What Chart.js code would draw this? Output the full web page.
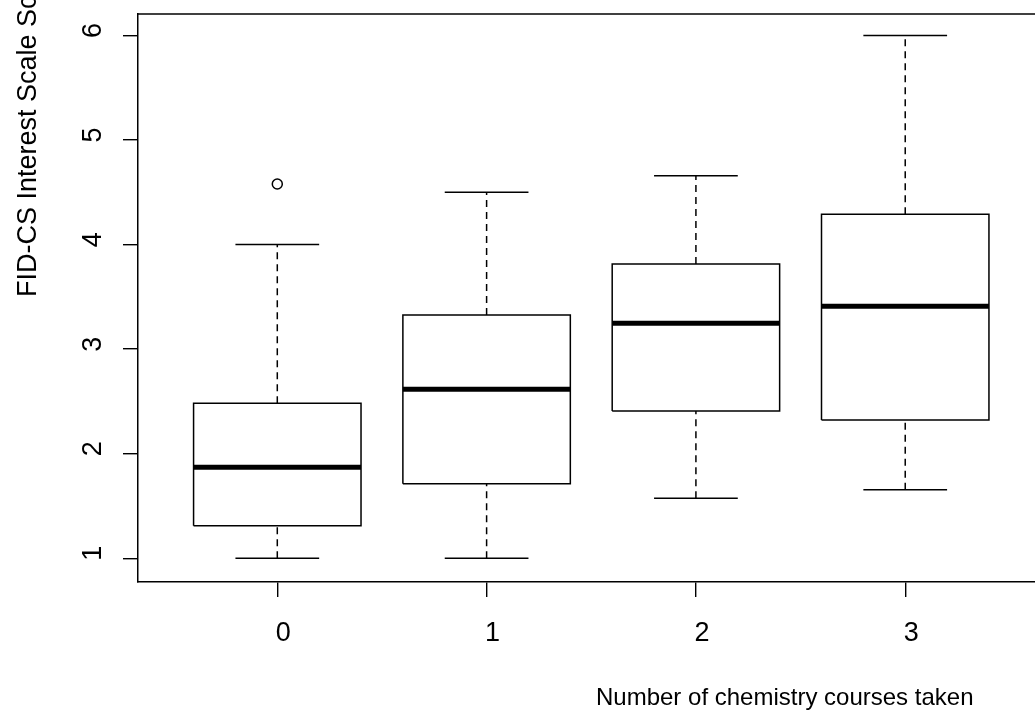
<!DOCTYPE html>
<html>
<head>
<meta charset="utf-8">
<script src="https://cdn.jsdelivr.net/npm/chart.js@4.4.1/dist/chart.umd.min.js"></script>
<style>
  html, body { margin: 0; padding: 0; background: #fff; overflow: hidden; }
  canvas { display: block; }
</style>
</head>
<body>
<canvas id="c" width="1035" height="715"></canvas>
<script>
// ---- data ----
const categories = ['0', '1', '2', '3'];
const xTicks = [0, 1, 2, 3];
const yTicks = [1, 2, 3, 4, 5, 6];
const lowerWhisker = [1.0, 1.0, 1.574, 1.655];
const q1 = [1.312, 1.712, 2.409, 2.323];
const median = [1.870, 2.617, 3.248, 3.410];
const q3 = [2.482, 3.327, 3.815, 4.290];
const upperWhisker = [4.0, 4.5, 4.659, 6.0];
const outliers = [[4.58], [], [], []];
const xTitle = 'Number of chemistry courses taken';
const yTitle = 'FID-CS Interest Scale Score';

// ---- build datasets ----
const BOX_HALF = 0.4, CAP_HALF = 0.2;
const datasets = [];
const lineDs = (data, width, dash) => ({
  type: 'scatter', showLine: true, data, borderColor: '#000', borderWidth: width,
  borderDash: dash || [], pointRadius: 0, pointHoverRadius: 0, fill: false, tension: 0,
  borderCapStyle: 'butt', borderJoinStyle: 'miter'
});
xTicks.forEach((x, i) => {
  datasets.push(lineDs([{x, y: q3[i]}, {x, y: upperWhisker[i]}], 1.5, [7, 5]));
  datasets.push(lineDs([{x, y: lowerWhisker[i]}, {x, y: q1[i]}], 1.5, [7, 5]));
  datasets.push(lineDs([{x: x - CAP_HALF, y: upperWhisker[i]}, {x: x + CAP_HALF, y: upperWhisker[i]}], 1.5));
  datasets.push(lineDs([{x: x - CAP_HALF, y: lowerWhisker[i]}, {x: x + CAP_HALF, y: lowerWhisker[i]}], 1.5));
  datasets.push(lineDs([
    {x: x - BOX_HALF, y: q1[i]}, {x: x + BOX_HALF, y: q1[i]},
    {x: x + BOX_HALF, y: q3[i]}, {x: x - BOX_HALF, y: q3[i]},
    {x: x - BOX_HALF, y: q1[i]}], 1.5));
  datasets.push(lineDs([{x: x - BOX_HALF, y: median[i]}, {x: x + BOX_HALF, y: median[i]}], 5));
  if (outliers[i].length) {
    datasets.push({
      type: 'scatter', data: outliers[i].map(v => ({x, y: v})),
      pointStyle: 'circle', pointRadius: 5, pointBorderWidth: 1.5,
      pointBorderColor: '#000', pointBackgroundColor: 'rgba(0,0,0,0)', showLine: false
    });
  }
});

const FONT = '"Liberation Sans", Arial, Helvetica, sans-serif';

const framePlugin = {
  id: 'frame',
  beforeDraw(chart) {
    const ctx = chart.ctx;
    ctx.save();
    ctx.fillStyle = '#fff';
    ctx.fillRect(0, 0, chart.width, chart.height);
    ctx.restore();
  },
  afterDraw(chart) {
    const ctx = chart.ctx, a = chart.chartArea;
    ctx.save();
    ctx.strokeStyle = '#000';
    ctx.lineWidth = 1.5;
    ctx.beginPath();
    ctx.moveTo(a.left, a.top);
    ctx.lineTo(a.right + 2, a.top);
    ctx.stroke();
    // axis titles
    ctx.fillStyle = '#000';
    ctx.font = '24px ' + FONT;
    ctx.textAlign = 'left';
    ctx.textBaseline = 'alphabetic';
    ctx.fillText(xTitle, 596, 705);
    ctx.translate(36, 297);
    ctx.rotate(-Math.PI / 2);
    ctx.font = '27px ' + FONT;
    ctx.fillText(yTitle, 0, 0);
    ctx.restore();
  }
};

const zeroPad = s => { s.paddingTop = 0; s.paddingBottom = 0; s.paddingLeft = 0; s.paddingRight = 0; };

new Chart(document.getElementById('c'), {
  type: 'scatter',
  data: { datasets },
  options: {
    responsive: false,
    animation: false,
    devicePixelRatio: 1,
    layout: { autoPadding: false, padding: { top: 14, right: 0, left: 0, bottom: 0 } },
    plugins: { legend: { display: false }, tooltip: { enabled: false }, title: { display: false } },
    scales: {
      x: {
        type: 'linear', position: 'bottom',
        min: -0.6655, max: 3.62,
        afterBuildTicks: s => { s.ticks = xTicks.map(v => ({ value: v })); },
        afterFit: s => { s.height = 133; zeroPad(s); },
        ticks: {
          autoSkip: false, maxRotation: 0, minRotation: 0, padding: 20, labelOffset: 6,
          color: '#000', font: { family: FONT, size: 27 },
          callback: v => categories[xTicks.indexOf(v)]
        },
        grid: { display: true, drawOnChartArea: false, drawTicks: true, tickLength: 15, color: '#000', lineWidth: 1.4 },
        border: { display: true, color: '#000', width: 1.5 }
      },
      y: {
        type: 'linear', position: 'left',
        min: 0.7733, max: 6.2056,
        afterBuildTicks: s => { s.ticks = yTicks.map(v => ({ value: v })); },
        afterFit: s => { s.width = 138; zeroPad(s); },
        ticks: {
          autoSkip: false, minRotation: 90, maxRotation: 90, padding: 22, labelOffset: -5,
          crossAlign: 'center',
          color: '#000', font: { family: FONT, size: 27 },
          callback: v => String(v)
        },
        grid: { display: true, drawOnChartArea: false, drawTicks: true, tickLength: 15, color: '#000', lineWidth: 1.4 },
        border: { display: true, color: '#000', width: 1.5 }
      }
    }
  },
  plugins: [framePlugin]
});
</script>
</body>
</html>
